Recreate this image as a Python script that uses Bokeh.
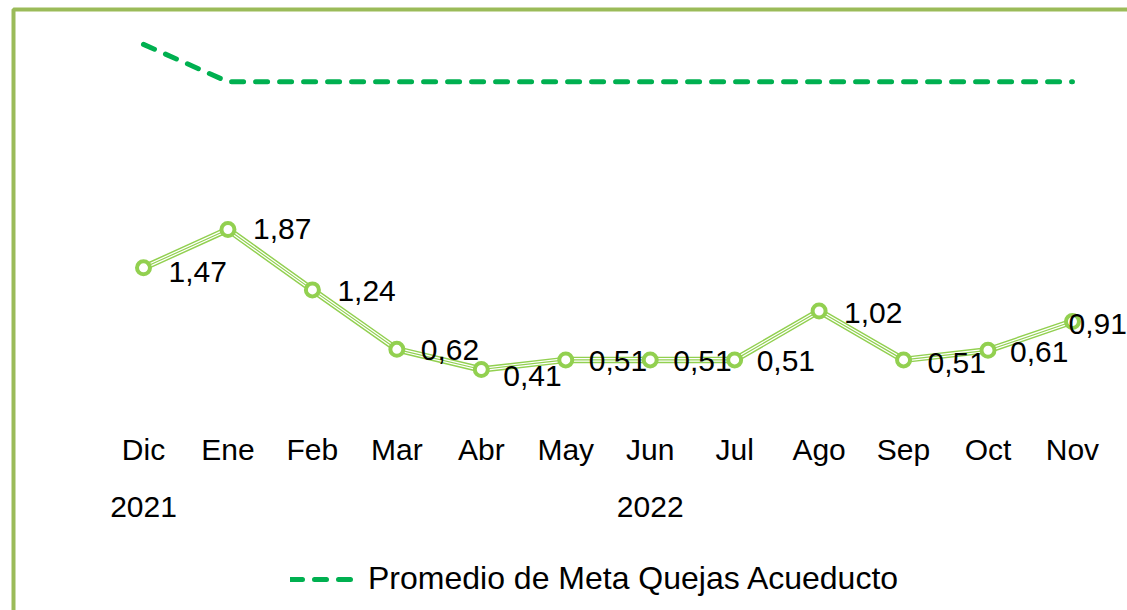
from bokeh.plotting import figure
from bokeh.models import (Range1d, Legend, LegendItem, ColumnDataSource, LinearAxis,
                          FixedTicker, BoxAnnotation)
from bokeh.core.properties import value
from bokeh.embed import file_html
from bokeh.resources import INLINE

# ---- data ----
months = ["Dic", "Ene", "Feb", "Mar", "Abr", "May", "Jun", "Jul", "Ago", "Sep", "Oct", "Nov"]
years = ["2021", "2022", "2022", "2022", "2022", "2022", "2022", "2022", "2022", "2022", "2022", "2022"]
quejas = [1.47, 1.87, 1.24, 0.62, 0.41, 0.51, 0.51, 0.51, 1.02, 0.51, 0.61, 0.91]
meta = [3.80, 3.41, 3.41, 3.41, 3.41, 3.41, 3.41, 3.41, 3.41, 3.41, 3.41, 3.41]
labels = ["1,47", "1,87", "1,24", "0,62", "0,41", "0,51", "0,51", "0,51", "1,02", "0,51", "0,61", "0,91"]

# label placement (pixels)
lab_dx = [25, 25, 25, 24, 22, 23, 23, 22, 25, 24, 22, -4]
lab_dy = [4, 0, 1, 1, 7, 1, 1, 1, 2, 3, 2, 2]

idx = list(range(len(months)))
src = ColumnDataSource(dict(x=idx, q=quejas, m=meta, lab=labels, dx=lab_dx, dy=lab_dy))

# year group tick positions: centre of each year's months
year_names = []
for y in years:
    if y not in year_names:
        year_names.append(y)
year_pos = [sum(i for i, y in enumerate(years) if y == yn) / years.count(yn) for yn in year_names]

FONT = "Liberation Sans"
FS = "30px"
W, H = 1127, 610

# pixel geometry of the plotting frame (frame = whole canvas)
X0_PX, DX_PX = 143.0, 84.45      # pixel of first month, pixels per month
Y0_PX, DY_PX = 408.3, 95.9       # pixel of value 0, pixels per unit


def px_x(px):
    return (px - X0_PX) / DX_PX


def px_y(py):
    return (Y0_PX - py) / DY_PX


x_range = Range1d(px_x(0), px_x(W))
y_range = Range1d(px_y(H), px_y(0))

p = figure(width=W, height=H, x_range=x_range, y_range=y_range,
           output_backend="svg", toolbar_location=None,
           x_axis_location=None, y_axis_location=None,
           min_border_left=0, min_border_right=0, min_border_top=0, min_border_bottom=0)
p.outline_line_color = None
p.xgrid.visible = False
p.ygrid.visible = False
p.background_fill_color = "white"
p.border_fill_color = "white"

# chart-area border (left, top, bottom)
p.add_layout(BoxAnnotation(left=13, right=W + 50, top=9, bottom=611.5,
                           left_units="canvas", right_units="canvas",
                           top_units="canvas", bottom_units="canvas",
                           fill_alpha=0, line_color="#9BBB59", line_alpha=1.0, line_width=4))

# meta dashed line
meta_r = p.line("x", "m", source=src, line_color="#00B050", line_width=5,
                line_dash="12 12", line_cap="round")

# quejas compound line
p.line("x", "q", source=src, line_color="#92D050", line_width=6.5, line_join="round")
p.line("x", "q", source=src, line_color="white", line_width=3.6, line_join="round")
p.line("x", "q", source=src, line_color="#92D050", line_width=1.2, line_join="round")
p.scatter("x", "q", source=src, size=13, fill_color="white", line_color="#92D050", line_width=4)

p.text("x", "q", text="lab", source=src, x_offset="dx", y_offset="dy",
       text_font=value(FONT), text_font_size=FS, text_color="black",
       text_align="left", text_baseline="middle")


def make_axis(ticks, names, loc_px):
    ax = LinearAxis(ticker=FixedTicker(ticks=ticks, minor_ticks=[]),
                    major_label_overrides={t: n for t, n in zip(ticks, names)},
                    fixed_location=px_y(loc_px))
    ax.axis_line_color = None
    ax.major_tick_line_color = None
    ax.minor_tick_line_color = None
    ax.major_label_text_font = FONT
    ax.major_label_text_font_size = FS
    ax.major_label_text_color = "black"
    ax.major_label_standoff = 9
    return ax


p.add_layout(make_axis(idx, months, 417), "below")
p.add_layout(make_axis(year_pos, year_names, 481), "below")

legend = Legend(items=[LegendItem(label="Promedio de Meta Quejas Acueducto", renderers=[meta_r])],
                location=(290, 13), orientation="horizontal", padding=0, margin=0,
                glyph_width=67, glyph_height=20, label_standoff=11,
                label_text_font=FONT, label_text_font_size="32px", label_text_color="black",
                border_line_color=None, background_fill_alpha=0)
p.add_layout(legend, "center")

open("out.html", "w").write(file_html(p, INLINE))
